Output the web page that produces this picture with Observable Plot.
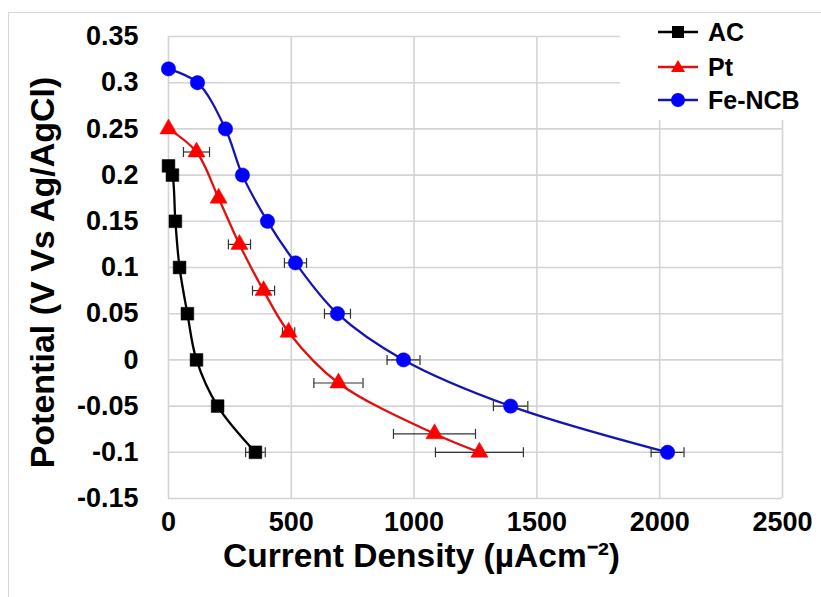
<!DOCTYPE html>
<html>
<head>
<meta charset="utf-8">
<script src="https://cdn.jsdelivr.net/npm/d3@7"></script>
<script src="https://cdn.jsdelivr.net/npm/@observablehq/plot@0.6"></script>
<style>
  html, body { margin: 0; padding: 0; background: #fff; overflow: hidden; }
  #wrap { position: relative; width: 821px; height: 597px; font-family: Arial, "Liberation Sans", sans-serif; }
  #frame { position: absolute; left: 8px; top: 12px; width: 900px; height: 700px; border-top: 1.5px solid #d9d9d9; border-left: 1.5px solid #d9d9d9; pointer-events: none; }
  #legend { position: absolute; left: 620px; top: 14px; width: 200px; height: 106px; background: #fff; }
  .row { position: absolute; left: 36px; height: 30px; display: flex; align-items: center; }
  .row svg { width: 44px; height: 24px; }
  .row span { font-weight: bold; font-size: 25px; margin-left: 8px; color: #000; }
</style>
</head>
<body>
<div id="wrap">
  <div id="frame"></div>
  <div id="chart"></div>
  <div id="legend"></div>
</div>
<script>
// ---- data ----
const seriesNames = ["AC", "Pt", "Fe-NCB"];

const acX   = [0, 16, 28, 45, 77, 114, 200, 354];
const acY   = [0.21, 0.2, 0.15, 0.1, 0.05, 0, -0.05, -0.1];
const acErr = [0, 0, 0, 0, 0, 0, 0, 40];

const ptX   = [0, 114, 204, 289, 387, 489, 692, 1083, 1266];
const ptY   = [0.25, 0.225, 0.175, 0.125, 0.075, 0.03, -0.025, -0.08, -0.1];
const ptErr = [0, 53, 0, 45, 45, 25, 100, 167, 179];

const feX   = [0, 118, 232, 301, 403, 517, 688, 957, 1393, 2032];
const feY   = [0.315, 0.3, 0.25, 0.2, 0.15, 0.105, 0.05, 0, -0.05, -0.1];
const feErr = [0, 0, 0, 0, 0, 45, 53, 67, 70, 67];

const xTicks = [0, 500, 1000, 1500, 2000, 2500];
const yTicks = [-0.15, -0.1, -0.05, 0, 0.05, 0.1, 0.15, 0.2, 0.25, 0.3, 0.35];

const xTitle = "Current Density (\u00B5Acm\u207B\u00B2)";
const yTitle = "Potential (V Vs Ag/AgCl)";

// ---- build table ----
const styles = {
  "AC":     {line: "#000000", fill: "#000000", symbol: "square",   r: 7.2},
  "Pt":     {line: "#e01010", fill: "#ff0000", symbol: "triangle", r: 6.4},
  "Fe-NCB": {line: "#1515b0", fill: "#0000ff", symbol: "circle",   r: 7.2}
};
function rows(name, xs, ys, es) {
  return xs.map((x, i) => ({series: name, x, y: ys[i], e: es[i]}));
}
const data = [
  ...rows("AC", acX, acY, acErr),
  ...rows("Pt", ptX, ptY, ptErr),
  ...rows("Fe-NCB", feX, feY, feErr)
];
const errData = data.filter(d => d.e > 0);
const caps = errData.flatMap(d => [{x: d.x - d.e, y: d.y}, {x: d.x + d.e, y: d.y}]);

const vbar = {
  draw(ctx, size) {
    const h = Math.sqrt(size / Math.PI);
    ctx.moveTo(0, -h);
    ctx.lineTo(0, h);
  }
};

const marks = [
  Plot.gridX(xTicks, {stroke: "#d4d4d4", strokeOpacity: 1, strokeWidth: 1.6}),
  Plot.gridY(yTicks, {stroke: "#d4d4d4", strokeOpacity: 1, strokeWidth: 1.6}),
  Plot.axisX(xTicks, {tickSize: 0, tickPadding: 13, fontSize: 27, fontWeight: "bold", label: null, tickFormat: d => String(d)}),
  Plot.axisY(yTicks, {tickSize: 0, tickPadding: 30, fontSize: 27, fontWeight: "bold", label: null, tickFormat: d => String(d)})
];
for (const s of seriesNames) {
  const st = styles[s];
  const sd = data.filter(d => d.series === s);
  marks.push(Plot.line(sd, {x: "x", y: "y", stroke: st.line, strokeWidth: 2.3, curve: "catmull-rom"}));
}
marks.push(Plot.ruleY(errData, {y: "y", x1: d => d.x - d.e, x2: d => d.x + d.e, stroke: "#333", strokeWidth: 1.2}));
marks.push(Plot.dot(caps, {x: "x", y: "y", symbol: vbar, r: 5, stroke: "#333", strokeWidth: 1.2, fill: "none"}));
for (const s of seriesNames) {
  const st = styles[s];
  const sd = data.filter(d => d.series === s);
  marks.push(Plot.dot(sd, {x: "x", y: "y", symbol: st.symbol, r: st.r, fill: st.fill, stroke: st.fill, strokeWidth: 0.5}));
}
marks.push(Plot.text([xTitle], {frameAnchor: "bottom", textAnchor: "middle", dy: 68, dx: -54, fontSize: 33.5, fontWeight: "bold", fill: "#000"}));
marks.push(Plot.text([yTitle], {frameAnchor: "left", textAnchor: "middle", lineAnchor: "middle", rotate: -90, dx: -125, dy: 5, fontSize: 34, fontWeight: "bold", fill: "#000"}));

const chart = Plot.plot({
  width: 821,
  height: 597,
  marginLeft: 168,
  marginRight: 39,
  marginTop: 36,
  marginBottom: 99,
  style: {fontFamily: "Arial, 'Liberation Sans', sans-serif", fontWeight: "bold", background: "transparent", color: "#000", fontSize: "27px"},
  x: {domain: [0, 2500]},
  y: {domain: [-0.15, 0.35]},
  marks
});
document.getElementById("chart").appendChild(chart);

// ---- legend ----
const legend = document.getElementById("legend");
const symPaths = {
  square: '<rect x="16" y="6" width="12" height="12"/>',
  triangle: '<path d="M22,5 L29,17 L15,17 Z"/>',
  circle: '<circle cx="22" cy="12" r="7"/>'
};
const rowTops = [3, 38, 71];
seriesNames.forEach((s, i) => {
  const st = styles[s];
  const div = document.createElement("div");
  div.className = "row";
  div.style.top = rowTops[i] + "px";
  div.innerHTML = `<svg viewBox="0 0 44 24"><line x1="2" y1="12" x2="42" y2="12" stroke="${st.line}" stroke-width="2.5"/>` +
    `<g fill="${st.fill}">${symPaths[st.symbol]}</g></svg><span>${s}</span>`;
  legend.appendChild(div);
});
</script>
</body>
</html>
